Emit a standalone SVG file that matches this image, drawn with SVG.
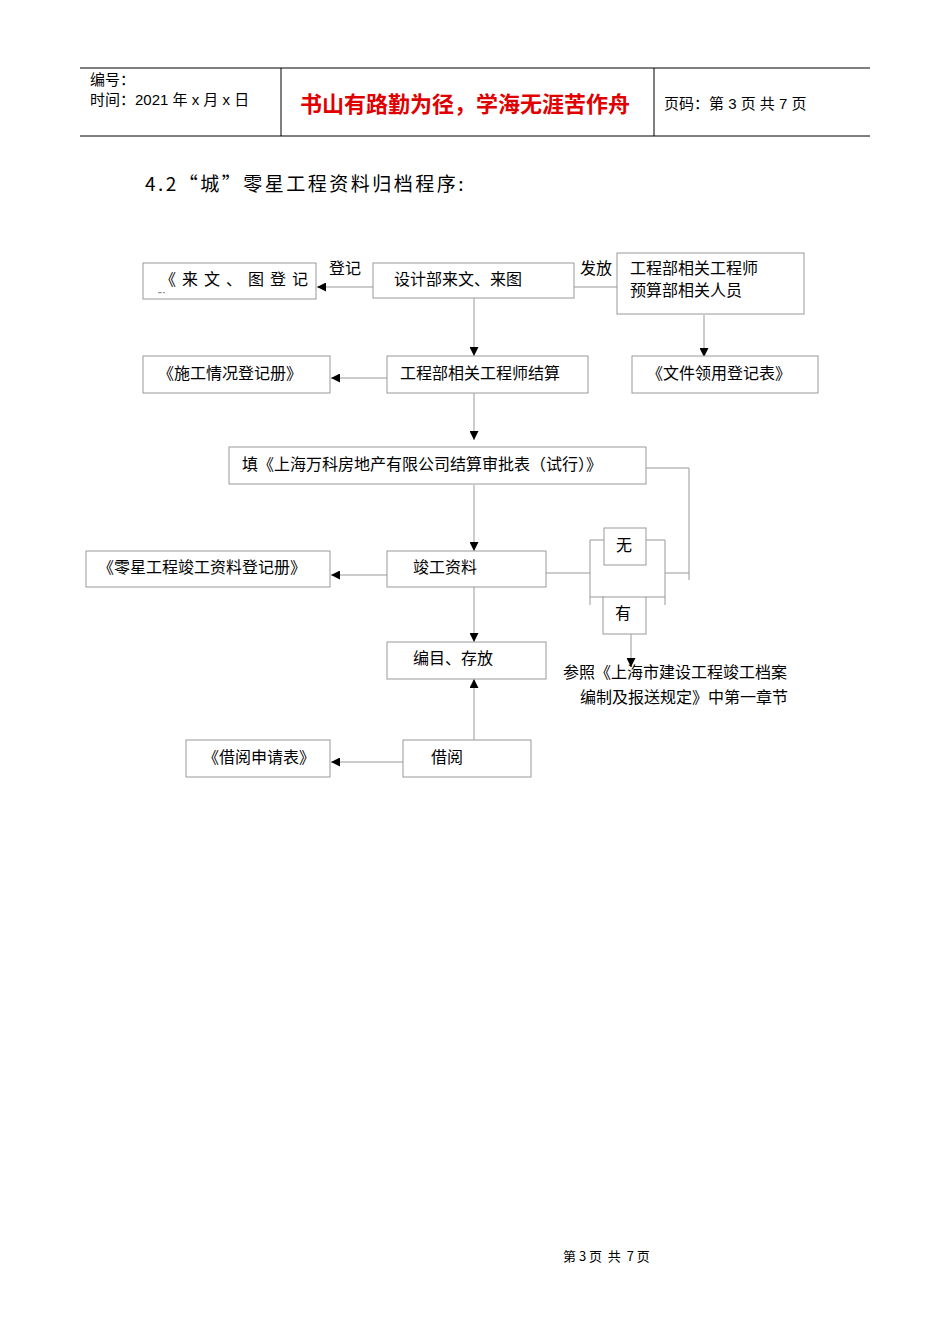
<svg xmlns="http://www.w3.org/2000/svg" width="950" height="1344" viewBox="0 0 950 1344">
<style>
.b{fill:#fff;stroke:#999;stroke-width:1}
.t{font-family:"Noto Sans CJK SC","Liberation Serif",serif;font-size:16px;fill:#000}
.c{stroke:#999;stroke-width:1;fill:none}
.h{font-family:"Liberation Sans","Noto Sans CJK SC",sans-serif;font-size:15px;fill:#000}
</style>
<defs><marker id="a" viewBox="0 0 10 10" refX="10" refY="5" markerWidth="9" markerHeight="9" orient="auto" markerUnits="userSpaceOnUse"><path d="M0,0L10,5L0,10z" fill="#000"/></marker></defs>
<rect width="950" height="1344" fill="#fff"/>
<g id="header">
<line x1="80" y1="68" x2="870" y2="68" stroke="#000"/>
<line x1="80" y1="136" x2="870" y2="136" stroke="#000"/>
<line x1="281" y1="68" x2="281" y2="136" stroke="#000"/>
<line x1="654" y1="68" x2="654" y2="136" stroke="#000"/>
<text class="h" x="90" y="85">编号：</text>
<text class="h" x="90" y="105">时间：2021 年 x 月 x 日</text>
<text x="300" y="112" style="font-family:'Noto Sans CJK SC',sans-serif;font-size:22px;font-weight:bold;fill:#e00000">书山有路勤为径，学海无涯苦作舟</text>
<text class="h" x="664" y="109">页码：第 3 页  共 7 页</text>
</g>
<text x="145" y="191" letter-spacing="2.5" style="font-family:'Noto Sans CJK SC',serif;font-size:19px">4.2“城”零星工程资料归档程序:</text>
<g id="connectors">
<line class="c" x1="373" y1="287" x2="317" y2="287" marker-end="url(#a)"/>
<line class="c" x1="574" y1="287" x2="617" y2="287"/>
<line class="c" x1="474" y1="298" x2="474" y2="356" marker-end="url(#a)"/>
<line class="c" x1="704" y1="315" x2="704" y2="357" marker-end="url(#a)"/>
<line class="c" x1="387" y1="378" x2="331" y2="378" marker-end="url(#a)"/>
<line class="c" x1="474" y1="393" x2="474" y2="440" marker-end="url(#a)"/>
<line class="c" x1="474" y1="485" x2="474" y2="551" marker-end="url(#a)"/>
<line class="c" x1="387" y1="575" x2="331" y2="575" marker-end="url(#a)"/>
<line class="c" x1="474" y1="587" x2="474" y2="642" marker-end="url(#a)"/>
<line class="c" x1="474" y1="740" x2="474" y2="679" marker-end="url(#a)"/>
<line class="c" x1="403" y1="762" x2="331" y2="762" marker-end="url(#a)"/>
<polyline class="c" points="646,468 689,468 689,580"/>
<line class="c" x1="546" y1="573" x2="590" y2="573"/>
<polyline class="c" points="604,540 590,540 590,605"/>
<line class="c" x1="590" y1="597" x2="604" y2="597"/>
<polyline class="c" points="646,540 665,540 665,605"/>
<line class="c" x1="646" y1="597" x2="665" y2="597"/>
<line class="c" x1="665" y1="573" x2="689" y2="573"/>
<line class="c" x1="631" y1="634" x2="631" y2="667" marker-end="url(#a)"/>
<text class="t" x="329" y="274">登记</text>
<text class="t" x="580" y="274">发放</text>
</g>
<g id="n1"><rect class="b" x="143" y="263" width="173" height="36"/><text class="t" x="160" y="285" letter-spacing="6">《来文、图登记</text><text x="158" y="296" style="font-family:'Liberation Sans',sans-serif;font-size:5px">"" "</text></g>
<g id="n2"><rect class="b" x="373" y="263" width="201" height="35"/><text class="t" x="394" y="285">设计部来文、来图</text></g>
<g id="n3"><rect class="b" x="617" y="253" width="187" height="61"/><text class="t" x="630" y="274">工程部相关工程师</text><text class="t" x="630" y="296">预算部相关人员</text></g>
<g id="n4"><rect class="b" x="143" y="356" width="187" height="37"/><text class="t" x="158" y="379">《施工情况登记册》</text></g>
<g id="n5"><rect class="b" x="387" y="356" width="201" height="37"/><text class="t" x="400" y="379">工程部相关工程师结算</text></g>
<g id="n6"><rect class="b" x="632" y="356" width="186" height="37"/><text class="t" x="647" y="379">《文件领用登记表》</text></g>
<g id="n7"><rect class="b" x="229" y="447" width="417" height="37"/><text class="t" x="242" y="470">填《上海万科房地产有限公司结算审批表（试行）》</text></g>
<g id="n8"><rect class="b" x="86" y="551" width="244" height="36"/><text class="t" x="98" y="573">《零星工程竣工资料登记册》</text></g>
<g id="n9"><rect class="b" x="387" y="551" width="159" height="36"/><text class="t" x="413" y="573">竣工资料</text></g>
<g id="n10"><rect class="b" x="604" y="528" width="42" height="37"/><text class="t" x="616" y="551">无</text></g>
<g id="n11"><rect class="b" x="603" y="597" width="43" height="37"/><text class="t" x="615" y="619">有</text></g>
<g id="n12"><rect class="b" x="387" y="642" width="159" height="37"/><text class="t" x="413" y="664">编目、存放</text></g>
<g id="n13"><text class="t" x="563" y="678">参照《上海市建设工程竣工档案</text><text class="t" x="580" y="703">编制及报送规定》中第一章节</text></g>
<g id="n14"><rect class="b" x="186" y="740" width="144" height="37"/><text class="t" x="203" y="763">《借阅申请表》</text></g>
<g id="n15"><rect class="b" x="403" y="740" width="128" height="37"/><text class="t" x="431" y="763">借阅</text></g>
<text x="563" y="1261" style="font-family:'Noto Sans CJK SC',serif;font-size:13px;white-space:pre">第 3 页  共  7 页</text>
</svg>
